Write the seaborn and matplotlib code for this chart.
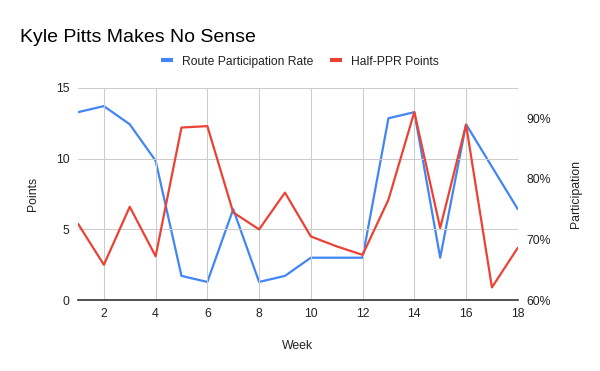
import matplotlib
matplotlib.use("Agg")
import matplotlib.pyplot as plt
import seaborn as sns
import pandas as pd
from matplotlib.lines import Line2D
from matplotlib.ticker import FuncFormatter

weeks = list(range(1, 19))
route_participation = [91, 92, 89, 83, 64, 63, 75, 63, 64, 67, 67, 67, 90, 91, 67, 89, 82, 75]
half_ppr_points = [5.4, 2.5, 6.6, 3.1, 12.2, 12.3, 6.2, 5.0, 7.6, 4.5, 3.8, 3.2, 7.1, 13.3, 5.1, 12.4, 0.9, 3.7]
title = "Kyle Pitts Makes No Sense"
series_names = ["Route Participation Rate", "Half-PPR Points"]

df = pd.DataFrame({"Week": weeks, "Participation": route_participation, "Points": half_ppr_points})

sns.set_theme(style="white")
plt.rcParams["font.family"] = ["Liberation Sans", "DejaVu Sans"]

BLUE = "#4285F4"
RED = "#EA4335"
GRID = "#cccccc"
TXT = "#222222"
FS = 8.8

fig = plt.figure(figsize=(6, 3.71), dpi=100)
ax = fig.add_axes([0.13, 0.191, 0.733, 0.572])
ax2 = ax.twinx()

sns.lineplot(data=df, x="Week", y="Points", ax=ax, color=RED, linewidth=1.6, zorder=3)
sns.lineplot(data=df, x="Week", y="Participation", ax=ax2, color=BLUE, linewidth=1.6, zorder=2)

ax.set_zorder(ax2.get_zorder() + 1)
ax.patch.set_visible(False)

ax.set_xlim(1, 18)
ax.set_ylim(0, 15)
ax2.set_ylim(60, 95)
ax.set_xticks(range(2, 19, 2))
ax.set_yticks([0, 5, 10, 15])
ax2.set_yticks([60, 70, 80, 90])
ax2.yaxis.set_major_formatter(FuncFormatter(lambda v, p: f"{int(v)}%"))

for a in (ax, ax2):
    for s in a.spines.values():
        s.set_visible(False)
    a.tick_params(length=0, labelsize=FS, colors=TXT, pad=6)
ax.spines["bottom"].set_visible(True)
ax.spines["bottom"].set_color("#333333")
ax.spines["bottom"].set_linewidth(1.2)
ax.spines["bottom"].set_zorder(5)

ax.grid(True, color=GRID, linewidth=0.75)
ax.set_axisbelow(True)
ax2.grid(False)
ax.axvline(18, color=GRID, linewidth=0.75, zorder=0)

ax.set_xlabel("Week", fontsize=FS, color=TXT, labelpad=14)
ax.set_ylabel("Points", fontsize=FS, color=TXT, labelpad=12)
ax2.set_ylabel("Participation", fontsize=FS, color=TXT, labelpad=14)

fig.text(0.033, 0.9, title, fontsize=14, color="#000000", ha="left", va="center")

handles = [Line2D([0], [0], color=BLUE, linewidth=3, solid_capstyle="butt"),
           Line2D([0], [0], color=RED, linewidth=3, solid_capstyle="butt")]
fig.legend(handles, series_names, loc="center", bbox_to_anchor=(0.5, 0.834), ncol=2,
           frameon=False, fontsize=8.7, handlelength=1.0, handletextpad=0.75,
           columnspacing=1.4, labelcolor=TXT)

fig.savefig("out.png", dpi=100)
